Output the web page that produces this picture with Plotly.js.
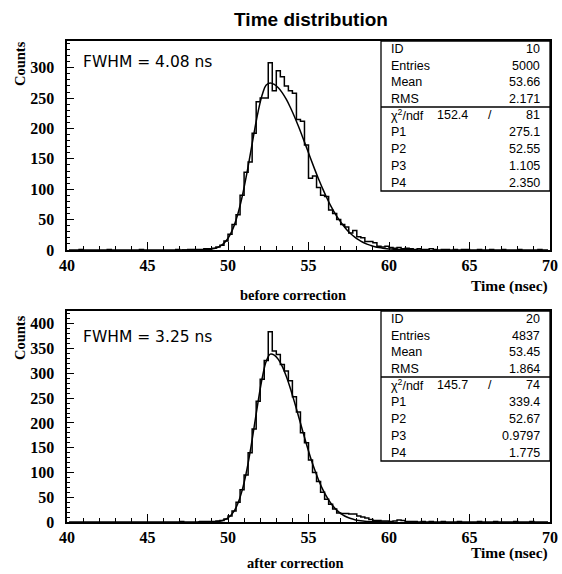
<!DOCTYPE html>
<html>
<head>
<meta charset="utf-8">
<script src="https://cdn.plot.ly/plotly-3.0.1.min.js"></script>
<style>
html,body{margin:0;padding:0;background:#fff;}
#chart{width:562px;height:574px;}
</style>
</head>
<body>
<div id="chart"></div>
<script>
// ---------------- DATA ----------------
// Histogram binning: 120 bins of 0.25 ns from 40 to 70 ns
const binStart = 40;
const binWidth = 0.25;

// Counts per bin, "before correction" (ID 10)
const countsBefore = [
  0,0,0,1,0,0,0,0,
  0,0,1,0,0,0,0,0,
  0,0,1,0,0,0,0,0,
  0,0,0,1,0,0,1,1,
  1,1,2,2,3,5,8,15,
  26,42,58,90,128,145,192,244,
  250,250,308,262,295,285,270,262,
  258,215,212,173,118,122,103,90,
  88,66,60,50,42,38,28,32,
  22,20,14,14,12,6,5,6,
  4,3,4,2,3,2,1,2,
  1,1,2,1,0,1,1,0,
  1,0,1,1,0,0,1,0,
  0,1,0,0,1,0,0,0,
  1,0,0,0,0,1,0,0
];

// Counts per bin, "after correction" (ID 20)
const countsAfter = [
  0,0,0,0,0,0,0,0,
  0,0,0,0,0,0,0,0,
  0,0,0,0,0,0,0,0,
  0,0,0,0,1,0,0,0,
  0,1,1,1,1,2,3,6,
  12,22,40,65,95,140,188,244,
  288,326,384,345,338,318,305,285,
  253,222,180,160,125,100,82,60,
  46,36,26,18,17,17,16,16,
  12,10,8,5,3,3,2,2,
  1,2,4,3,1,1,1,0,
  1,0,1,0,0,1,0,0,
  0,1,0,0,0,0,1,0,
  0,0,1,0,0,0,0,1,
  0,0,0,1,0,0,0,0
];

// Fit curves (asymmetric gaussian), values read at bin centres
const fitBeforeStart = 47.125;
const fitBefore = [
  0.0,0.0,0.01,0.04,0.09,0.22,0.5,1.09,2.26,4.4,8.3,14.7,24.8,39.7,60.4,87.2,
  119.8,156.3,193.7,228.3,255.5,271.7,275.0,272.5,267.0,258.7,247.8,234.6,219.8,203.6,
  186.4,168.9,150.9,133.5,116.8,101.2,86.5,73.2,61.3,50.7,41.5,33.5,26.8,21.2,16.6,
  12.8,9.7,7.4,5.5,4.05,2.96,2.14,1.53,1.08,0.75,0.52,0.35,0.23,0.15,0.1,0.06
];
const fitAfterStart = 48.125;
const fitAfter = [
  0.01,0.02,0.07,0.19,0.49,1.19,2.71,5.8,11.6,21.8,38.4,63.4,97.9,141.6,192.1,244.2,
  290.7,324.4,339.0,337.1,328.4,313.7,293.7,269.7,242.6,214.0,185.2,157.0,130.4,106.3,
  84.9,66.5,51.1,38.4,28.4,20.5,14.5,10.1,6.9,4.6,3.0,1.93,1.22,0.75,0.46,0.27,0.16,0.09,0.05
];

// Statistics boxes
const statLabels = ['ID','Entries','Mean','RMS','χ<sup>2</sup>/ndf','P1','P2','P3','P4'];
const statValuesBefore = ['10','5000','53.66','2.171','81','275.1','52.55','1.105','2.350'];
const chi2Before = '152.4';
const statValuesAfter = ['20','4837','53.45','1.864','74','339.4','52.67','0.9797','1.775'];
const chi2After = '145.7';

const fwhmBefore = 'FWHM = 4.08 ns';
const fwhmAfter = 'FWHM = 3.25 ns';
const chartTitle = 'Time distribution';
const xTitle = 'Time (nsec)';
const yTitle = 'Counts';
const subBefore = 'before correction';
const subAfter = 'after correction';

// ---------------- BUILD ----------------
const W = 562, H = 574;
const px = v => v / W;
const py = v => 1 - v / H;

const centers = countsBefore.map((_, i) => binStart + binWidth * (i + 0.5));
const fitX = (start, arr) => arr.map((_, i) => start + binWidth * i);

const lineStyle = {color: '#000', width: 1.5};

const traces = [
  {x: centers, y: countsBefore, type: 'scatter', mode: 'lines', line: Object.assign({shape: 'hvh'}, lineStyle), xaxis: 'x', yaxis: 'y', hoverinfo: 'skip'},
  {x: fitX(fitBeforeStart, fitBefore), y: fitBefore, type: 'scatter', mode: 'lines', line: Object.assign({shape: 'spline'}, lineStyle), xaxis: 'x', yaxis: 'y', hoverinfo: 'skip'},
  {x: centers, y: countsAfter, type: 'scatter', mode: 'lines', line: Object.assign({shape: 'hvh'}, lineStyle), xaxis: 'x2', yaxis: 'y2', hoverinfo: 'skip'},
  {x: fitX(fitAfterStart, fitAfter), y: fitAfter, type: 'scatter', mode: 'lines', line: Object.assign({shape: 'spline'}, lineStyle), xaxis: 'x2', yaxis: 'y2', hoverinfo: 'skip'}
];

const tickFont = {family: 'Liberation Serif, Times New Roman, serif', size: 16, color: '#000', weight: 'bold'};
const serifBold = {family: 'Liberation Serif, Times New Roman, serif', size: 14.5, color: '#000', weight: 'bold'};

function xAxis(anchor) {
  return {
    anchor: anchor, domain: [px(67), px(550)], range: [40, 70],
    tick0: 40, dtick: 5, ticks: 'inside', ticklen: 8, tickwidth: 1, tickcolor: '#000',
    minor: {ticks: 'inside', dtick: 1, ticklen: 4, tickwidth: 1, tickcolor: '#000', showgrid: false},
    showline: true, linewidth: 1.6, linecolor: '#000', mirror: true,
    showgrid: false, zeroline: false, tickfont: tickFont, ticklabelstandoff: 0, fixedrange: true
  };
}
function yAxis(anchor, top, bottom, max) {
  return {
    anchor: anchor, domain: [py(bottom), py(top)], range: [0, max],
    tick0: 0, dtick: 50, ticks: 'inside', ticklen: 7, tickwidth: 1, tickcolor: '#000',
    minor: {ticks: 'inside', dtick: 10, ticklen: 3, tickwidth: 1, tickcolor: '#000', showgrid: false},
    showline: true, linewidth: 1.6, linecolor: '#000', mirror: true,
    showgrid: false, zeroline: false, tickfont: tickFont, ticklabelstandoff: 8, fixedrange: true
  };
}

const annotations = [];
const shapes = [];
const statFont = {family: 'Liberation Sans, Arial, sans-serif', size: 12.5, color: '#000'};

function statsBox(boxTop, divider, boxBottom, values, chi2) {
  shapes.push({type: 'rect', xref: 'paper', yref: 'paper', x0: px(381), x1: px(550), y0: py(boxBottom), y1: py(boxTop), line: {color: '#000', width: 1.3}});
  shapes.push({type: 'line', xref: 'paper', yref: 'paper', x0: px(381), x1: px(550), y0: py(divider), y1: py(divider), line: {color: '#000', width: 1.3}});
  const upper = (divider - boxTop) / 4;
  const lower = (boxBottom - divider) / 5;
  statLabels.forEach((lab, i) => {
    const yc = i < 4 ? boxTop + upper * (i + 0.5) : divider + lower * (i - 4 + 0.5);
    annotations.push({text: lab, xref: 'paper', yref: 'paper', x: px(389), y: py(yc), xanchor: 'left', yanchor: 'middle', showarrow: false, font: statFont});
    annotations.push({text: values[i], xref: 'paper', yref: 'paper', x: px(542), y: py(yc), xanchor: 'right', yanchor: 'middle', showarrow: false, font: statFont});
    if (i === 4) {
      annotations.push({text: chi2, xref: 'paper', yref: 'paper', x: px(470), y: py(yc), xanchor: 'right', yanchor: 'middle', showarrow: false, font: statFont});
      annotations.push({text: '/', xref: 'paper', yref: 'paper', x: px(490), y: py(yc), xanchor: 'center', yanchor: 'middle', showarrow: false, font: statFont});
    }
  });
}
statsBox(41, 107, 191, statValuesBefore, chi2Before);
statsBox(311, 377, 461, statValuesAfter, chi2After);

const fwhmFont = {family: 'DejaVu Sans, sans-serif', size: 15.5, color: '#000'};
annotations.push({text: fwhmBefore, xref: 'paper', yref: 'paper', x: px(81), y: py(62), xanchor: 'left', yanchor: 'middle', showarrow: false, font: fwhmFont});
annotations.push({text: fwhmAfter, xref: 'paper', yref: 'paper', x: px(81), y: py(337), xanchor: 'left', yanchor: 'middle', showarrow: false, font: fwhmFont});

annotations.push({text: yTitle, xref: 'paper', yref: 'paper', x: px(20), y: py(64), xanchor: 'center', yanchor: 'middle', textangle: -90, showarrow: false, font: serifBold});
annotations.push({text: yTitle, xref: 'paper', yref: 'paper', x: px(20), y: py(338), xanchor: 'center', yanchor: 'middle', textangle: -90, showarrow: false, font: serifBold});

const xtFont = {family: 'Liberation Serif, Times New Roman, serif', size: 15.5, color: '#000', weight: 'bold'};
annotations.push({text: xTitle, xref: 'paper', yref: 'paper', x: px(550), y: py(286), xanchor: 'right', yanchor: 'middle', showarrow: false, font: xtFont});
annotations.push({text: xTitle, xref: 'paper', yref: 'paper', x: px(550), y: py(553), xanchor: 'right', yanchor: 'middle', showarrow: false, font: xtFont});
annotations.push({text: subBefore, xref: 'paper', yref: 'paper', x: px(293), y: py(295), xanchor: 'center', yanchor: 'middle', showarrow: false, font: serifBold});
annotations.push({text: subAfter, xref: 'paper', yref: 'paper', x: px(295), y: py(563), xanchor: 'center', yanchor: 'middle', showarrow: false, font: serifBold});

const layout = {
  width: W, height: H,
  margin: {l: 0, r: 0, t: 0, b: 0},
  paper_bgcolor: '#fff', plot_bgcolor: '#fff',
  showlegend: false,
  title: {text: chartTitle, font: {family: 'Liberation Sans, Arial, sans-serif', size: 19, color: '#000', weight: 'bold'},
          x: px(311), xref: 'paper', xanchor: 'center', y: py(19), yref: 'container', yanchor: 'middle'},
  xaxis: xAxis('y'),
  yaxis: yAxis('x', 41, 250, 344),
  xaxis2: xAxis('y2'),
  yaxis2: yAxis('x2', 311, 522, 426),
  annotations: annotations,
  shapes: shapes
};

Plotly.newPlot('chart', traces, layout, {displayModeBar: false, staticPlot: true});
</script>
</body>
</html>
